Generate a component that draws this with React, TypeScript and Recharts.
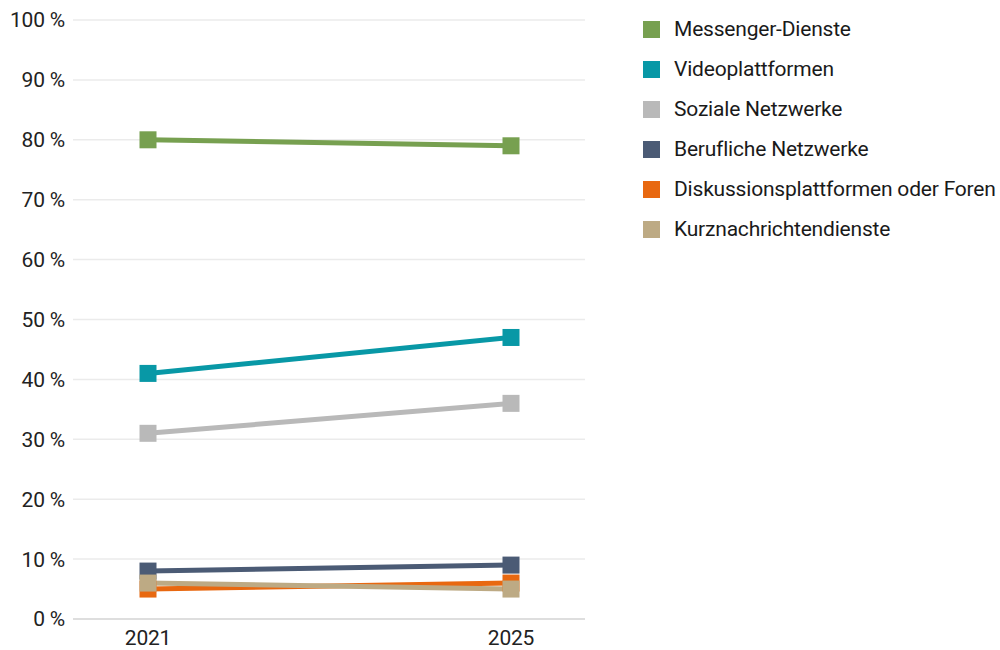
import React from 'react';
import { LineChart, Line, XAxis, YAxis, CartesianGrid } from 'recharts';

const years = ['2021', '2025'];
const messenger = [80, 79];
const video = [41, 47];
const sozial = [31, 36];
const beruflich = [8, 9];
const diskussion = [5, 6];
const kurz = [6, 5];
const yTicks = [0, 10, 20, 30, 40, 50, 60, 70, 80, 90, 100];

const series = [
  { key: 'messenger', name: 'Messenger-Dienste', color: '#77a050', values: messenger },
  { key: 'video', name: 'Videoplattformen', color: '#0898a6', values: video },
  { key: 'sozial', name: 'Soziale Netzwerke', color: '#b9b9b9', values: sozial },
  { key: 'beruflich', name: 'Berufliche Netzwerke', color: '#4b5b75', values: beruflich },
  { key: 'diskussion', name: 'Diskussionsplattformen oder Foren', color: '#e86810', values: diskussion },
  { key: 'kurz', name: 'Kurznachrichtendienste', color: '#bdaa84', values: kurz },
];

const data = years.map((y, i) => {
  const row: any = { year: y };
  series.forEach((s) => { row[s.key] = s.values[i]; });
  return row;
});

const FONT = 'Roboto, sans-serif';

const SquareDot = (props: any) => {
  const { cx, cy, stroke } = props;
  if (cx == null || cy == null) return null;
  return <rect x={cx - 8.5} y={cy - 8.5} width={17} height={17} fill={stroke} />;
};

const LegendBlock = () => (
  <div style={{ position: 'absolute', left: 643, top: 9, width: 357, fontFamily: FONT }}>
    {series.map((s) => (
      <div key={s.key} style={{ display: 'flex', alignItems: 'center', height: 40 }}>
        <div style={{ width: 17, height: 17, background: s.color, marginRight: 14, flexShrink: 0 }} />
        <span style={{ fontSize: 21, color: '#1a1a1a', letterSpacing: -0.2, whiteSpace: 'nowrap' }}>{s.name}</span>
      </div>
    ))}
  </div>
);

export default function App() {
  return (
    <div style={{ position: 'absolute', left: 0, top: 0, width: 1000, height: 650, background: '#fff' }}>
      <LineChart width={1000} height={650} data={data} margin={{ top: 20, right: 415, bottom: 0, left: 0 }}>
        <CartesianGrid vertical={false} stroke="#ebebeb" strokeWidth={1.5} />
        <XAxis
          dataKey="year"
          padding={{ left: 75, right: 74 }}
          tickLine={false}
          axisLine={{ stroke: '#dedede', strokeWidth: 2 }}
          height={31}
          tickMargin={5}
          tick={{ fontFamily: FONT, fontSize: 21, fill: '#222', letterSpacing: -0.2 }}
        />
        <YAxis
          width={73}
          domain={[0, 100]}
          ticks={yTicks}
          interval={0}
          axisLine={false}
          tickLine={false}
          tickMargin={2}
          tickFormatter={(v: number) => `${v} %`}
          tick={{ fontFamily: FONT, fontSize: 21, fill: '#222', letterSpacing: -0.2 }}
        />
        {series.map((s) => (
          <Line
            key={s.key}
            dataKey={s.key}
            name={s.name}
            stroke={s.color}
            strokeWidth={5}
            dot={<SquareDot />}
            activeDot={false}
            isAnimationActive={false}
          />
        ))}
      </LineChart>
      <LegendBlock />
    </div>
  );
}
